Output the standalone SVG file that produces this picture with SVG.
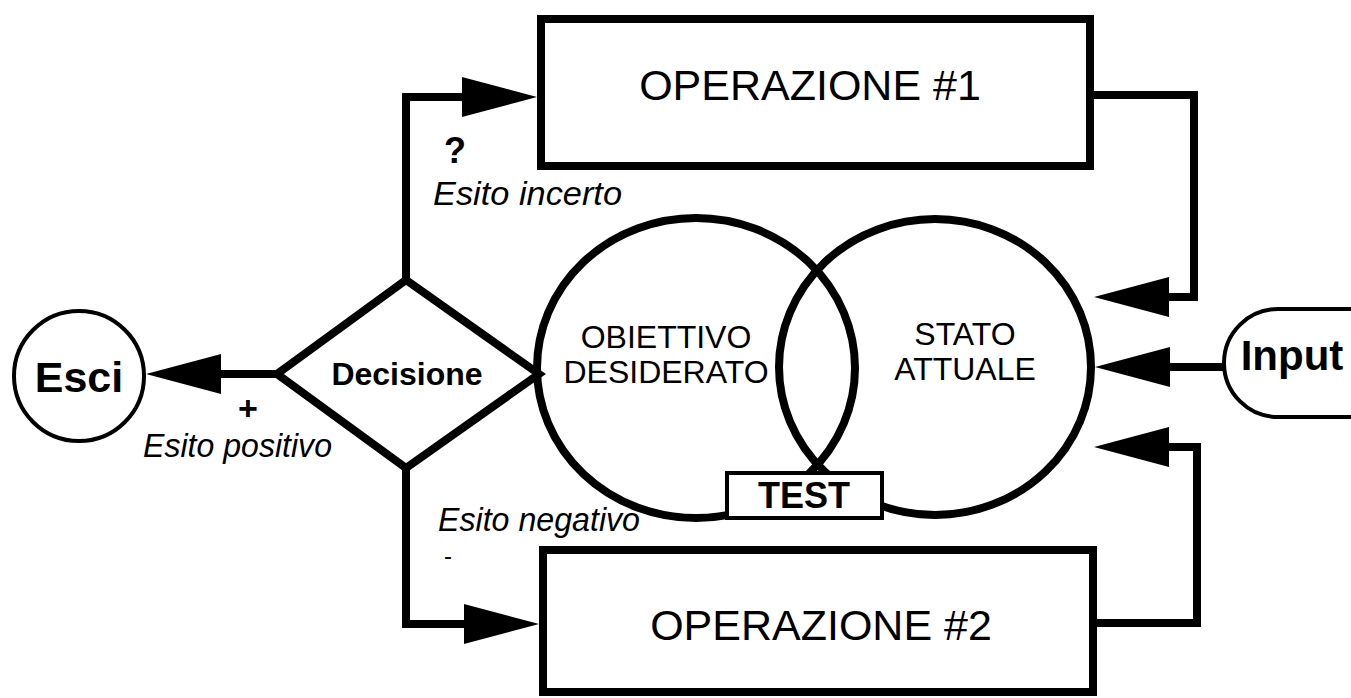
<svg xmlns="http://www.w3.org/2000/svg" width="1351" height="698" viewBox="0 0 1351 698">
<style>
.box{fill:#fff;stroke:#000;stroke-width:8}
.thin{fill:#fff;stroke:#000;stroke-width:4}
.circ{fill:none;stroke:#000;stroke-width:8}
.conn{fill:none;stroke:#000;stroke-width:8;stroke-linejoin:miter;marker-end:url(#ah)}
text{font-family:"Liberation Sans",Arial,sans-serif;fill:#000;text-anchor:middle}
.big{font-size:43px}
.mid{font-size:32px}
.bold{font-weight:bold}
.it{font-style:italic;text-anchor:start;font-size:33px}
</style>
<defs>
<marker id="ah" markerUnits="userSpaceOnUse" markerWidth="76" markerHeight="42" viewBox="0 -21 76 42" refX="1" refY="0" orient="auto" overflow="visible">
<path d="M0,-20 L75,0 L0,20 z" fill="#000"/>
</marker>
</defs>
<rect width="1351" height="698" fill="#fff"/>
<g id="connectors">
<polyline class="conn" points="406,280 406,97 463,97"/>
<polyline class="conn" points="406,468 406,624 465,624"/>
<polyline class="conn" points="277,374 220,374"/>
<polyline class="conn" points="1224,367 1169,367"/>
<polyline class="conn" points="1090,95 1194,95 1194,297 1168,297"/>
<polyline class="conn" points="1093,623 1197,623 1197,447 1168,447"/>
</g>
<g id="op1">
<rect class="box" x="541" y="19" width="549" height="147"/>
<text class="big" x="810" y="100">OPERAZIONE #1</text>
</g>
<g id="op2">
<rect class="box" x="543" y="550" width="550" height="142"/>
<text class="big" x="821" y="640">OPERAZIONE #2</text>
</g>
<g id="obiettivo">
<ellipse class="circ" cx="696" cy="368" rx="159" ry="150"/>
<text class="mid" x="666" y="348">OBIETTIVO</text>
<text class="mid" x="666" y="383">DESIDERATO</text>
</g>
<g id="stato">
<ellipse class="circ" cx="935" cy="367" rx="156" ry="148"/>
<text class="mid" x="965" y="345">STATO</text>
<text class="mid" x="965" y="380">ATTUALE</text>
</g>
<g id="test">
<rect class="thin" x="727" y="473" width="155" height="45"/>
<text class="bold" x="804" y="508" font-size="36">TEST</text>
</g>
<g id="decisione">
<polygon class="box" points="277,374 406,280 539,374 406,468"/>
<text class="bold" x="407" y="385" font-size="32">Decisione</text>
</g>
<g id="esci">
<circle class="thin" cx="79" cy="376" r="65"/>
<text class="bold" x="79" y="392" font-size="43">Esci</text>
</g>
<g id="input">
<rect class="thin" x="1224" y="309" width="200" height="108" rx="54"/>
<text class="bold" x="1292" y="370" font-size="42">Input</text>
</g>
<g id="labels">
<text class="bold" x="455" y="163" font-size="36">?</text>
<text class="it" x="433" y="205" textLength="189" lengthAdjust="spacingAndGlyphs">Esito incerto</text>
<text class="bold" x="248" y="420" font-size="34">+</text>
<text class="it" x="143" y="457" textLength="189" lengthAdjust="spacingAndGlyphs">Esito positivo</text>
<text class="it" x="438" y="531" textLength="202" lengthAdjust="spacingAndGlyphs">Esito negativo</text>
<text x="448" y="564" font-size="24">-</text>
</g>
</svg>
